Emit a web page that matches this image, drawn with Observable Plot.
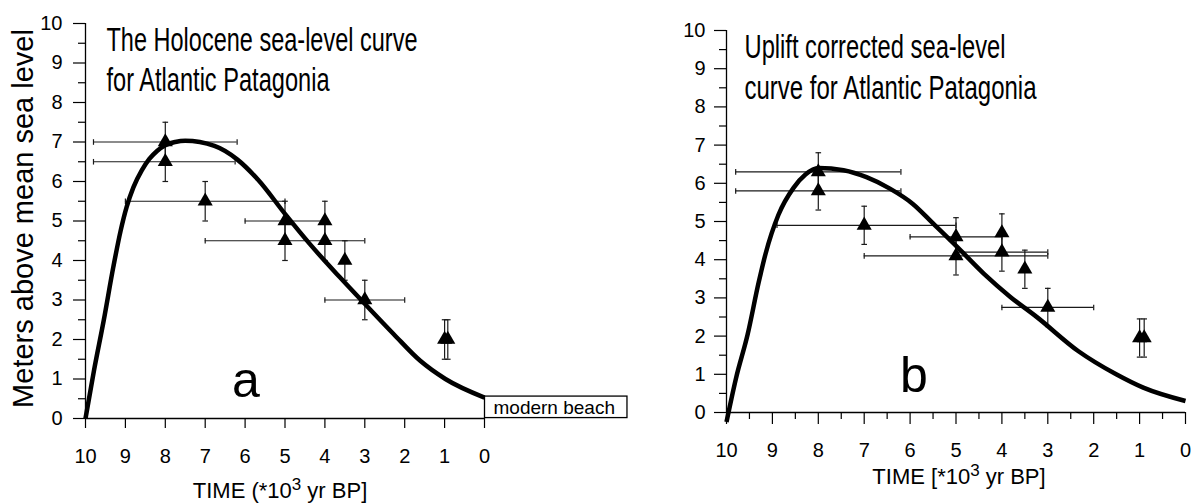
<!DOCTYPE html>
<html>
<head>
<meta charset="utf-8">
<script src="https://cdn.jsdelivr.net/npm/d3@7"></script>
<script src="https://cdn.jsdelivr.net/npm/@observablehq/plot@0.6"></script>
<style>
  body { margin: 0; background: #fff; }
  #wrap { position: relative; width: 1197px; height: 503px; overflow: hidden; background: #fff; }
  #panelA { position: absolute; left: 0; top: 0; }
  #panelB { position: absolute; left: 600px; top: 0; }
</style>
</head>
<body>
<div id="wrap"><div id="panelA"></div><div id="panelB"></div></div>
<script>
// ---------- Panel a: The Holocene sea-level curve ----------
const curveATime  = [10, 9.79, 9.54, 9.3, 9.12, 8.97, 8.8, 8.59, 8.4, 8.2, 8.0, 7.75, 7.5, 6.77, 6.2, 5.68, 5.0, 4.38, 3.63, 2.96, 2.28, 1.61, 0.98, 0];
const curveAValue = [0, 1.2, 2.5, 3.85, 4.75, 5.35, 5.85, 6.28, 6.57, 6.78, 6.92, 7.0, 7.03, 6.9, 6.56, 6.05, 5.18, 4.42, 3.58, 2.86, 2.14, 1.46, 1.0, 0.53];

const pointsATime   = [8, 8, 7, 5, 4, 5, 4, 3.5, 3, 1.0, 0.92];
const pointsAValue  = [7.0, 6.5, 5.5, 5.0, 5.0, 4.5, 4.5, 4.0, 3.0, 2.0, 2.0];
const pointsAErr    = [0.5, 0.5, 0.5, 0.5, 0.5, 0.5, 0.5, 0.5, 0.5, 0.5, 0.5];
const pointsAOldest = [9.8, 9.8, 9, 6, null, 7, null, null, 4, null, null];
const pointsAYoung  = [6.2, 6.25, 5, 4, null, 3, null, null, 2, null, null];

// ---------- Panel b: Uplift corrected sea-level curve ----------
const curveBTime  = [10, 9.79, 9.54, 9.3, 9.15, 8.87, 8.54, 8.28, 7.99, 7.45, 6.95, 6.44, 5.94, 5.5, 4.97, 4.39, 3.81, 3.23, 2.34, 1.51, 0.92, 0];
const curveBValue = [-0.25, 0.91, 2.04, 3.4, 4.15, 5.17, 5.88, 6.23, 6.4, 6.34, 6.16, 5.86, 5.46, 4.95, 4.33, 3.63, 3.02, 2.49, 1.61, 1.0, 0.65, 0.3];

const pointsBTime   = [8, 8, 7, 5, 4, 5, 4, 3.5, 3, 1.0, 0.9];
const pointsBValue  = [6.3, 5.8, 4.9, 4.6, 4.7, 4.1, 4.2, 3.75, 2.75, 1.95, 1.95];
const pointsBErr    = [0.5, 0.5, 0.5, 0.5, 0.5, 0.5, 0.5, 0.5, 0.5, 0.5, 0.5];
const pointsBOldest = [9.8, 9.8, 8.9, 6, null, 7, 5, null, 4, null, null];
const pointsBYoung  = [6.2, 6.2, 5, 4, null, 3, 3, null, 2, null, null];

// ---------- Text ----------
const yTitle = "Meters above mean sea level";
const xTitleA = "TIME (*10³ yr BP]";
const xTitleB = "TIME [*10³ yr BP]";
const titleA = ["The Holocene sea-level curve", "for Atlantic Patagonia"];
const titleB = ["Uplift corrected sea-level", "curve for Atlantic Patagonia"];
const beachNote = [{t: 0, v: 0, label: "modern beach"}];
const majorTicks = d3.range(0, 11);
const halfTicks = d3.range(0.5, 10, 1);

const FONT = "'Liberation Sans', Arial, Helvetica, sans-serif";
const NARROW = "'Liberation Sans Narrow', 'Arial Narrow', 'Liberation Sans', Arial, sans-serif";

const hCap = {draw(ctx) { ctx.moveTo(-2.8, 0); ctx.lineTo(2.8, 0); }};
const vCap = {draw(ctx) { ctx.moveTo(0, -2.8); ctx.lineTo(0, 2.8); }};

function rows(times, values, errs, olds, youngs) {
  return times.map((t, i) => ({t, v: values[i], e: errs[i], old: olds[i], young: youngs[i]}));
}
function curveRows(times, values) {
  return times.map((t, i) => ({t, v: values[i]}));
}

function errorMarks(data) {
  const h = data.filter(d => d.old != null);
  const barStyle = {stroke: "#1a1a1a", strokeWidth: 1.2};
  return [
    Plot.ruleY(h, {y: "v", x1: "old", x2: "young", ...barStyle}),
    Plot.dot(h, {x: "old", y: "v", symbol: vCap, fill: "none", ...barStyle}),
    Plot.dot(h, {x: "young", y: "v", symbol: vCap, fill: "none", ...barStyle}),
    Plot.ruleX(data, {x: "t", y1: d => d.v - d.e, y2: d => d.v + d.e, ...barStyle}),
    Plot.dot(data, {x: "t", y: d => d.v - d.e, symbol: hCap, fill: "none", ...barStyle}),
    Plot.dot(data, {x: "t", y: d => d.v + d.e, symbol: hCap, fill: "none", ...barStyle}),
    Plot.dot(data, {x: "t", y: "v", symbol: "triangle", r: 5.6, fill: "#000", stroke: "none"})
  ];
}

// ----- Panel a -----
const dataA = rows(pointsATime, pointsAValue, pointsAErr, pointsAOldest, pointsAYoung);
const plotA = Plot.plot({
  width: 600, height: 503,
  marginLeft: 85, marginRight: 116, marginTop: 23, marginBottom: 85,
  x: {domain: [10, 0], label: null},
  y: {domain: [0, 10], label: null},
  style: {fontFamily: FONT, background: "transparent", overflow: "visible", color: "#000"},
  marks: [
    Plot.axisX({ticks: majorTicks, tickSize: 10, tickPadding: 20, fontSize: 20, label: null, stroke: "#000", strokeWidth: 1.2}),
    Plot.axisY({ticks: majorTicks, tickSize: 12, tickPadding: 11, fontSize: 20, label: null, stroke: "#000", strokeWidth: 1.2}),
    Plot.axisY({ticks: halfTicks, tickSize: 7, tickFormat: () => "", label: null, stroke: "#000", strokeWidth: 1.2}),
    Plot.ruleY([0], {stroke: "#000", strokeWidth: 1.3}),
    Plot.ruleX([10], {stroke: "#000", strokeWidth: 1.3}),
    ...errorMarks(dataA),
    Plot.line(curveRows(curveATime, curveAValue), {x: "t", y: "v", curve: "monotone-x", stroke: "#000", strokeWidth: 4.5, strokeLinecap: "butt"}),
    Plot.text([titleA[0]], {frameAnchor: "top-left", textAnchor: "start", lineAnchor: "top", dx: 21, dy: 4, fontSize: 33, fontFamily: NARROW}),
    Plot.text([titleA[1]], {frameAnchor: "top-left", textAnchor: "start", lineAnchor: "top", dx: 21, dy: 44, fontSize: 33, fontFamily: NARROW}),
    Plot.text(["a"], {frameAnchor: "bottom", lineAnchor: "top", dx: -39, dy: -57, fontSize: 50}),
    Plot.text([yTitle], {frameAnchor: "left", rotate: -90, textAnchor: "middle", lineAnchor: "top", dx: -73, dy: -2.5, fontSize: 29}),
    Plot.text([xTitleA], {frameAnchor: "bottom", lineAnchor: "top", dx: -5, dy: 64, fontSize: 22}),
    Plot.text(beachNote, {x: "t", y: "v", text: "label", textAnchor: "start", lineAnchor: "middle", dx: 9, dy: -11, fontSize: 19})
  ]
});

// ----- Panel b -----
const dataB = rows(pointsBTime, pointsBValue, pointsBErr, pointsBOldest, pointsBYoung);
const plotB = Plot.plot({
  width: 597, height: 503,
  marginLeft: 126, marginRight: 12, marginTop: 30, marginBottom: 91,
  x: {domain: [10, 0], label: null},
  y: {domain: [0, 10], label: null},
  style: {fontFamily: FONT, background: "transparent", overflow: "visible", color: "#000"},
  marks: [
    Plot.axisX({ticks: majorTicks, tickSize: 12, tickPadding: 18, fontSize: 20, label: null, stroke: "#000", strokeWidth: 1.2}),
    Plot.axisX({ticks: halfTicks, tickSize: 7, tickFormat: () => "", label: null, stroke: "#000", strokeWidth: 1.2}),
    Plot.axisY({ticks: majorTicks, tickSize: 12, tickPadding: 9, fontSize: 20, label: null, stroke: "#000", strokeWidth: 1.2}),
    Plot.axisY({ticks: halfTicks, tickSize: 7, tickFormat: () => "", label: null, stroke: "#000", strokeWidth: 1.2}),
    Plot.ruleY([0], {stroke: "#000", strokeWidth: 1.3}),
    Plot.ruleX([10], {stroke: "#000", strokeWidth: 1.3}),
    ...errorMarks(dataB),
    Plot.line(curveRows(curveBTime, curveBValue), {x: "t", y: "v", curve: "monotone-x", stroke: "#000", strokeWidth: 4.5, strokeLinecap: "butt"}),
    Plot.text([titleB[0]], {frameAnchor: "top-left", textAnchor: "start", lineAnchor: "top", dx: 18, dy: 4, fontSize: 33, fontFamily: NARROW}),
    Plot.text([titleB[1]], {frameAnchor: "top-left", textAnchor: "start", lineAnchor: "top", dx: 18, dy: 45, fontSize: 33, fontFamily: NARROW}),
    Plot.text(["b"], {frameAnchor: "bottom", lineAnchor: "top", dx: -42, dy: -56, fontSize: 50}),
    Plot.text([xTitleB], {frameAnchor: "bottom", lineAnchor: "top", dx: 3, dy: 56, fontSize: 22})
  ]
});

document.getElementById("panelA").appendChild(plotA);
document.getElementById("panelB").appendChild(plotB);

// Fit the condensed title lines to the widths seen in the original
const titleWidths = new Map([
  [titleA[0], 311], [titleA[1], 223], [titleB[0], 261], [titleB[1], 292]
]);
for (const svg of [plotA, plotB]) {
  for (const t of svg.querySelectorAll("text")) {
    const w = titleWidths.get(t.textContent);
    if (w) { t.setAttribute("textLength", w); t.setAttribute("lengthAdjust", "spacingAndGlyphs"); }
  }
}

// Real superscript for the exponent in the time-axis titles
const SVGNS = "http://www.w3.org/2000/svg";
for (const svg of [plotA, plotB]) {
  for (const t of svg.querySelectorAll("text")) {
    const s = t.textContent;
    if ((s === xTitleA || s === xTitleB) && s.includes("³")) {
      const [before, after] = s.split("³");
      t.textContent = "";
      t.appendChild(document.createTextNode(before));
      const sup = document.createElementNS(SVGNS, "tspan");
      sup.setAttribute("dy", "-8");
      sup.setAttribute("font-size", "17");
      sup.textContent = "3";
      t.appendChild(sup);
      const rest = document.createElementNS(SVGNS, "tspan");
      rest.setAttribute("dy", "8");
      rest.textContent = after;
      t.appendChild(rest);
    }
  }
}

// Box round the "modern beach" note
{
  const t = [...plotA.querySelectorAll("text")].find(e => e.textContent === "modern beach");
  if (t) {
    const b = t.getBBox();
    const r = document.createElementNS(SVGNS, "rect");
    r.setAttribute("x", b.x - 9);
    r.setAttribute("y", b.y - 0.5);
    r.setAttribute("width", b.width + 21);
    r.setAttribute("height", b.height + 0.5);
    r.setAttribute("fill", "#fff");
    r.setAttribute("stroke", "#000");
    r.setAttribute("stroke-width", 1.3);
    if (t.getAttribute("transform")) r.setAttribute("transform", t.getAttribute("transform"));
    t.parentNode.insertBefore(r, t);
  }
}
</script>
</body>
</html>
